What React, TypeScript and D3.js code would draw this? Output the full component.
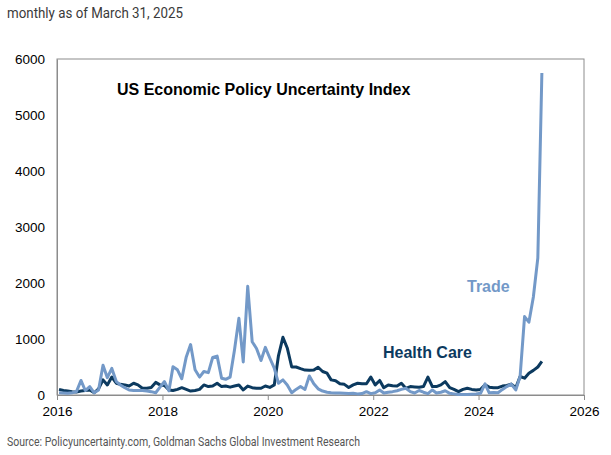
import React, { useRef, useEffect } from 'react';
import * as d3 from 'd3';

// monthly index values, Jan 2016 .. Mar 2025
const tradeValues = [
  40, 35, 30, 40, 60, 260, 80, 150, 40, 90, 530, 310,
  475, 240, 180, 130, 90, 80, 80, 80, 70, 60, 40, 140,
  240, 75, 505, 450, 290, 680, 900, 450, 320, 420, 400, 670,
  695, 300, 280, 320, 800, 1370, 590, 1940, 950, 830, 615, 850,
  660, 480, 210, 270, 180, 40, 100, 150, 100, 340, 200, 110,
  70, 50, 40, 35, 35, 30, 25, 30, 20, 25, 60, 25,
  40, 90, 35, 50, 60, 75, 100, 120, 60, 35, 80, 50,
  25, 90, 35, 50, 75, 30, 20, 10, 10, 10, 15, 20,
  30, 200, 40, 45, 40, 100, 150, 195, 90, 330, 1400, 1300,
  1750, 2450, 5750,
];

const healthCareValues = [
  100, 80, 70, 60, 55, 70, 80, 90, 40, 110, 270, 180,
  320, 210, 190, 180, 160, 210, 180, 120, 120, 135, 225, 180,
  170, 90, 80, 100, 130, 100, 70, 80, 100, 180, 150, 160,
  210, 150, 160, 140, 160, 180, 90, 160, 130, 120, 120, 160,
  135, 180, 700, 1030, 840, 500, 500, 470, 445, 440, 445, 495,
  420, 390, 270, 255, 200, 190, 135, 180, 210, 200, 200, 320,
  180, 260, 130, 180, 165, 160, 210, 120, 150, 145, 140, 150,
  320, 150, 150, 180, 240, 130, 100, 60, 100, 120, 100, 90,
  100, 180, 140, 130, 130, 160, 170, 195, 130, 330, 300, 390,
  440, 500, 600,
];

const yearTicks = [2016, 2018, 2020, 2022, 2024, 2026];
const valueTicks = [0, 1000, 2000, 3000, 4000, 5000, 6000];

const width = 611;
const height = 455;
const margin = { top: 59, right: 27, bottom: 60, left: 57 };

const tradeColor = '#7399c8';
const healthColor = '#0c3a5f';
const frameColor = '#8c8c8c';

const App: React.FC = () => {
  const svgRef = useRef<SVGSVGElement>(null);

  useEffect(() => {
    if (!svgRef.current) return;
    const svg = d3.select(svgRef.current);
    svg.selectAll('*').remove();

    const innerW = width - margin.left - margin.right;
    const innerH = height - margin.top - margin.bottom;

    // mid-month positions
    const months = tradeValues.map((_, i) => new Date(2016, i, 15));

    const xScale = d3.scaleTime()
      .domain([new Date(2016, 0, 1), new Date(2026, 0, 1)])
      .range([0, innerW]);

    const yScale = d3.scaleLinear()
      .domain([0, 6000])
      .range([innerH, 0]);

    // header and footer
    svg.append('text')
      .attr('x', 7)
      .attr('y', 18)
      .attr('textLength', 176)
      .attr('lengthAdjust', 'spacingAndGlyphs')
      .style('font-family', 'Roboto, sans-serif')
      .style('font-size', '14.5px')
      .attr('fill', '#3a3a3a')
      .text('monthly as of March 31, 2025');

    svg.append('text')
      .attr('x', 7)
      .attr('y', 446)
      .attr('textLength', 353)
      .attr('lengthAdjust', 'spacingAndGlyphs')
      .style('font-family', 'Roboto, sans-serif')
      .style('font-size', '13px')
      .attr('fill', '#555')
      .text('Source: Policyuncertainty.com, Goldman Sachs Global Investment Research');

    const g = svg.append('g')
      .attr('transform', `translate(${margin.left},${margin.top})`);

    // frame
    g.append('rect')
      .attr('x', 0)
      .attr('y', 0)
      .attr('width', innerW)
      .attr('height', innerH)
      .attr('fill', 'none')
      .attr('stroke', frameColor)
      .attr('stroke-width', 1);

    // x axis
    const xAxis = d3.axisBottom(xScale)
      .tickValues(yearTicks.map(y => new Date(y, 0, 1)))
      .tickFormat(d => d3.timeFormat('%Y')(d as Date))
      .tickSize(5)
      .tickPadding(6);

    const xAxisGroup = g.append('g')
      .attr('transform', `translate(0,${innerH})`)
      .call(xAxis);
    xAxisGroup.select('.domain').attr('stroke', frameColor);
    xAxisGroup.selectAll('.tick line').attr('stroke', frameColor);
    xAxisGroup.selectAll('.tick text')
      .style('font-family', '"Liberation Sans", Arial, sans-serif')
      .style('font-size', '13.5px')
      .attr('fill', '#000');

    // y axis
    const yAxis = d3.axisLeft(yScale)
      .tickValues(valueTicks)
      .tickFormat(d => String(d))
      .tickSize(0)
      .tickPadding(12);

    const yAxisGroup = g.append('g').call(yAxis);
    yAxisGroup.select('.domain').attr('stroke', frameColor);
    yAxisGroup.selectAll('.tick text')
      .style('font-family', '"Liberation Sans", Arial, sans-serif')
      .style('font-size', '13.5px')
      .attr('fill', '#000');

    // series
    const line = d3.line<number>()
      .x((_, i) => xScale(months[i]))
      .y(d => yScale(d));

    g.append('path')
      .datum(healthCareValues)
      .attr('d', line)
      .attr('fill', 'none')
      .attr('stroke', healthColor)
      .attr('stroke-width', 3)
      .attr('stroke-linejoin', 'round');

    g.append('path')
      .datum(tradeValues)
      .attr('d', line)
      .attr('fill', 'none')
      .attr('stroke', tradeColor)
      .attr('stroke-width', 3)
      .attr('stroke-linejoin', 'round');

    // labels
    const bold = (sel: d3.Selection<SVGTextElement, unknown, null, undefined>) =>
      sel.style('font-family', '"Liberation Sans", Arial, sans-serif')
        .style('font-weight', 'bold')
        .style('font-size', '16px');

    g.append('text')
      .attr('x', 117 - margin.left)
      .attr('y', 95 - margin.top)
      .attr('fill', '#000')
      .call(bold)
      .text('US Economic Policy Uncertainty Index');

    g.append('text')
      .attr('x', 467 - margin.left)
      .attr('y', 292 - margin.top)
      .attr('fill', tradeColor)
      .call(bold)
      .text('Trade');

    g.append('text')
      .attr('x', 383 - margin.left)
      .attr('y', 358 - margin.top)
      .attr('fill', healthColor)
      .call(bold)
      .text('Health Care');
  }, []);

  return (
    <div style={{ position: 'absolute', left: 0, top: 0 }}>
      <svg
        ref={svgRef}
        width={width}
        height={height}
        style={{ display: 'block', background: '#fff' }}
        aria-label="US Economic Policy Uncertainty Index, Trade and Health Care"
      />
    </div>
  );
};

export default App;
